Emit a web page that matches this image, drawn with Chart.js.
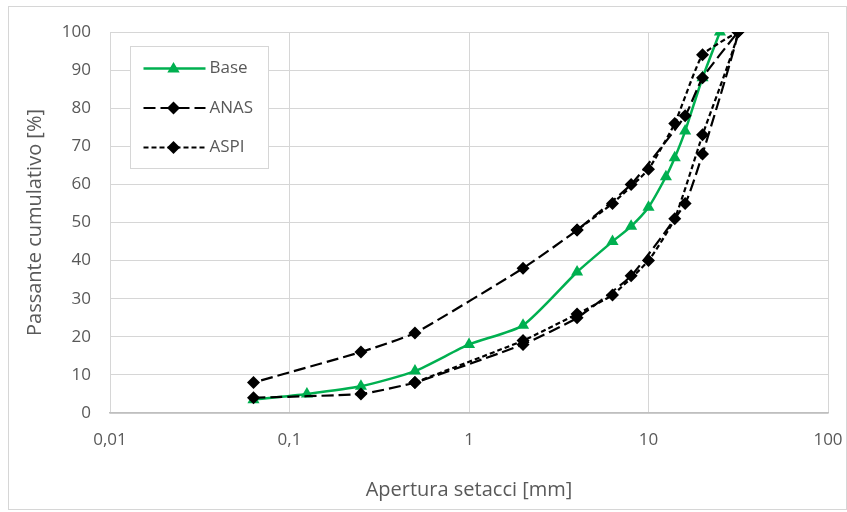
<!DOCTYPE html>
<html lang="it">
<head>
    <meta charset="UTF-8">
    <title>Curve granulometriche</title>
    <style>
        body {
            margin: 0;
            padding: 0;
            background-color: #ffffff;
        }
    </style>
    <script src="https://cdn.jsdelivr.net/npm/chart.js"></script>
</head>
<body>
    <canvas id="myCanvas" width="847" height="512"></canvas>

    <script>
        // tick values / labels of the log axis
        const xTicks = [0.01, 0.1, 1, 10, 100];
        const xTickLabels = ['0,01', '0,1', '1', '10', '100'];

        // Base mix
        const baseSieve = [0.063, 0.125, 0.25, 0.5, 1, 2, 4, 6.3, 8, 10, 12.5, 14, 16, 20, 25];
        const basePass = [3.5, 5, 7, 11, 18, 23, 37, 45, 49, 54, 62, 67, 74, 88, 100];

        // ANAS envelope: lower limit going up, then upper limit coming back
        const anasSieve = [0.063, 0.25, 0.5, 2, 4, 8, 16, 20, 31.5, 20, 16, 8, 4, 2, 0.5, 0.25, 0.063];
        const anasPass = [4, 5, 8, 18, 25, 36, 55, 68, 100, 88, 78, 60, 48, 38, 21, 16, 8];

        // ASPI envelope
        const aspiSieve = [0.5, 2, 4, 6.3, 10, 14, 20, 31.5, 20, 14, 10, 6.3, 4];
        const aspiPass = [8, 19, 26, 31, 40, 51, 73, 100, 94, 76, 64, 55, 48];

        const seriesNames = ['Base', 'ANAS', 'ASPI'];

        const greenColor = '#00b050';
        const textColor = '#595959';
        const gridColor = '#d6d6d6';
        const fontFamily = "'Open Sans', 'Noto Sans', sans-serif";

        function toPoints(xs, ys) {
            return xs.map((x, i) => ({ x: x, y: ys[i] }));
        }

        // white background + outer frame
        const frame = {
            id: 'frame',
            beforeDraw(chart) {
                const ctx = chart.ctx;
                ctx.save();
                ctx.fillStyle = '#ffffff';
                ctx.fillRect(0, 0, chart.width, chart.height);
                ctx.strokeStyle = gridColor;
                ctx.lineWidth = 1;
                ctx.strokeRect(8.5, 6.5, chart.width - 9, chart.height - 9);
                ctx.restore();
            }
        };

        function drawMarker(ctx, style, x, y, r, color) {
            ctx.save();
            ctx.setLineDash([]);
            ctx.fillStyle = color;
            ctx.beginPath();
            if (style === 'triangle') {
                ctx.moveTo(x, y - r);
                ctx.lineTo(x + r * 0.95, y + r * 0.6);
                ctx.lineTo(x - r * 0.95, y + r * 0.6);
            } else {
                ctx.moveTo(x, y - r);
                ctx.lineTo(x + r, y);
                ctx.lineTo(x, y + r);
                ctx.lineTo(x - r, y);
            }
            ctx.closePath();
            ctx.fill();
            ctx.restore();
        }

        // legend box inside the plot area, like the original
        const legendBox = {
            id: 'legendBox',
            afterDatasetsDraw(chart) {
                const ctx = chart.ctx;
                const area = chart.chartArea;
                const x0 = area.left + 20.5, y0 = area.top + 14.5;
                const w = 138, h = 122;
                ctx.save();
                ctx.fillStyle = '#ffffff';
                ctx.fillRect(x0, y0, w, h);
                ctx.strokeStyle = gridColor;
                ctx.lineWidth = 1;
                ctx.strokeRect(x0, y0, w, h);

                chart.data.datasets.forEach((ds, i) => {
                    const y = y0 + 22 + i * 39.5;
                    ctx.strokeStyle = ds.borderColor;
                    ctx.lineWidth = ds.borderWidth;
                    ctx.setLineDash(ds.borderDash || []);
                    ctx.beginPath();
                    ctx.moveTo(x0 + 13, y);
                    ctx.lineTo(x0 + 75, y);
                    ctx.stroke();
                    drawMarker(ctx, ds.pointStyle, x0 + 43, y, 6.5, ds.pointBackgroundColor);
                    ctx.setLineDash([]);
                    ctx.fillStyle = textColor;
                    ctx.font = '17px ' + fontFamily;
                    ctx.textBaseline = 'middle';
                    ctx.textAlign = 'left';
                    ctx.fillText(ds.label, x0 + 79, y);
                });
                ctx.restore();
            }
        };

        const ctx = document.getElementById('myCanvas').getContext('2d');

        new Chart(ctx, {
            type: 'scatter',
            data: {
                datasets: [
                    {
                        label: seriesNames[0],
                        data: toPoints(baseSieve, basePass),
                        showLine: true,
                        borderColor: greenColor,
                        borderWidth: 2.5,
                        pointStyle: 'triangle',
                        pointRadius: 7,
                        pointBackgroundColor: greenColor,
                        pointBorderColor: greenColor,
                        pointBorderWidth: 0,
                        tension: 0.2,
                        order: 3
                    },
                    {
                        label: seriesNames[1],
                        data: toPoints(anasSieve, anasPass),
                        showLine: true,
                        borderColor: '#000000',
                        borderWidth: 2.2,
                        borderDash: [12, 5],
                        pointStyle: 'rectRot',
                        pointRadius: 6.5,
                        pointBackgroundColor: '#000000',
                        pointBorderColor: '#000000',
                        pointBorderWidth: 0,
                        tension: 0.15,
                        order: 2
                    },
                    {
                        label: seriesNames[2],
                        data: toPoints(aspiSieve, aspiPass),
                        showLine: true,
                        borderColor: '#000000',
                        borderWidth: 2.2,
                        borderDash: [5, 3],
                        pointStyle: 'rectRot',
                        pointRadius: 6.5,
                        pointBackgroundColor: '#000000',
                        pointBorderColor: '#000000',
                        pointBorderWidth: 0,
                        tension: 0.15,
                        order: 1
                    }
                ]
            },
            options: {
                responsive: false,
                animation: false,
                layout: {
                    padding: { left: 10, right: 19, top: 32, bottom: 0 }
                },
                plugins: {
                    legend: { display: false },
                    tooltip: { enabled: false }
                },
                scales: {
                    x: {
                        type: 'logarithmic',
                        min: 0.01,
                        max: 100,
                        afterBuildTicks(scale) {
                            scale.ticks = xTicks.map(v => ({ value: v }));
                        },
                        afterFit(scale) {
                            scale.height = 99;
                            // let the "100" label hang over into the frame margin
                            scale.paddingRight = 0;
                            scale.paddingLeft = 0;
                        },
                        ticks: {
                            color: textColor,
                            padding: 17,
                            maxRotation: 0,
                            font: { size: 17, family: fontFamily },
                            callback: function (value) {
                                const i = xTicks.indexOf(value);
                                return i >= 0 ? xTickLabels[i] : '';
                            }
                        },
                        grid: {
                            color: gridColor,
                            drawTicks: false
                        },
                        border: {
                            color: '#bfbfbf',
                            width: 1.5
                        },
                        title: {
                            display: true,
                            text: 'Apertura setacci [mm]',
                            color: textColor,
                            font: { size: 20, family: fontFamily },
                            padding: { top: 4, bottom: 10 }
                        }
                    },
                    y: {
                        min: 0,
                        max: 100,
                        afterFit(scale) {
                            scale.width = 100;
                        },
                        ticks: {
                            stepSize: 10,
                            color: textColor,
                            padding: 19,
                            font: { size: 17, family: fontFamily }
                        },
                        grid: {
                            color: gridColor,
                            drawTicks: false
                        },
                        border: { display: false },
                        title: {
                            display: true,
                            text: 'Passante cumulativo [%]',
                            color: textColor,
                            font: { size: 20, family: fontFamily },
                            padding: { top: 13, bottom: 4 }
                        }
                    }
                }
            },
            plugins: [frame, legendBox]
        });
    </script>
</body>
</html>
